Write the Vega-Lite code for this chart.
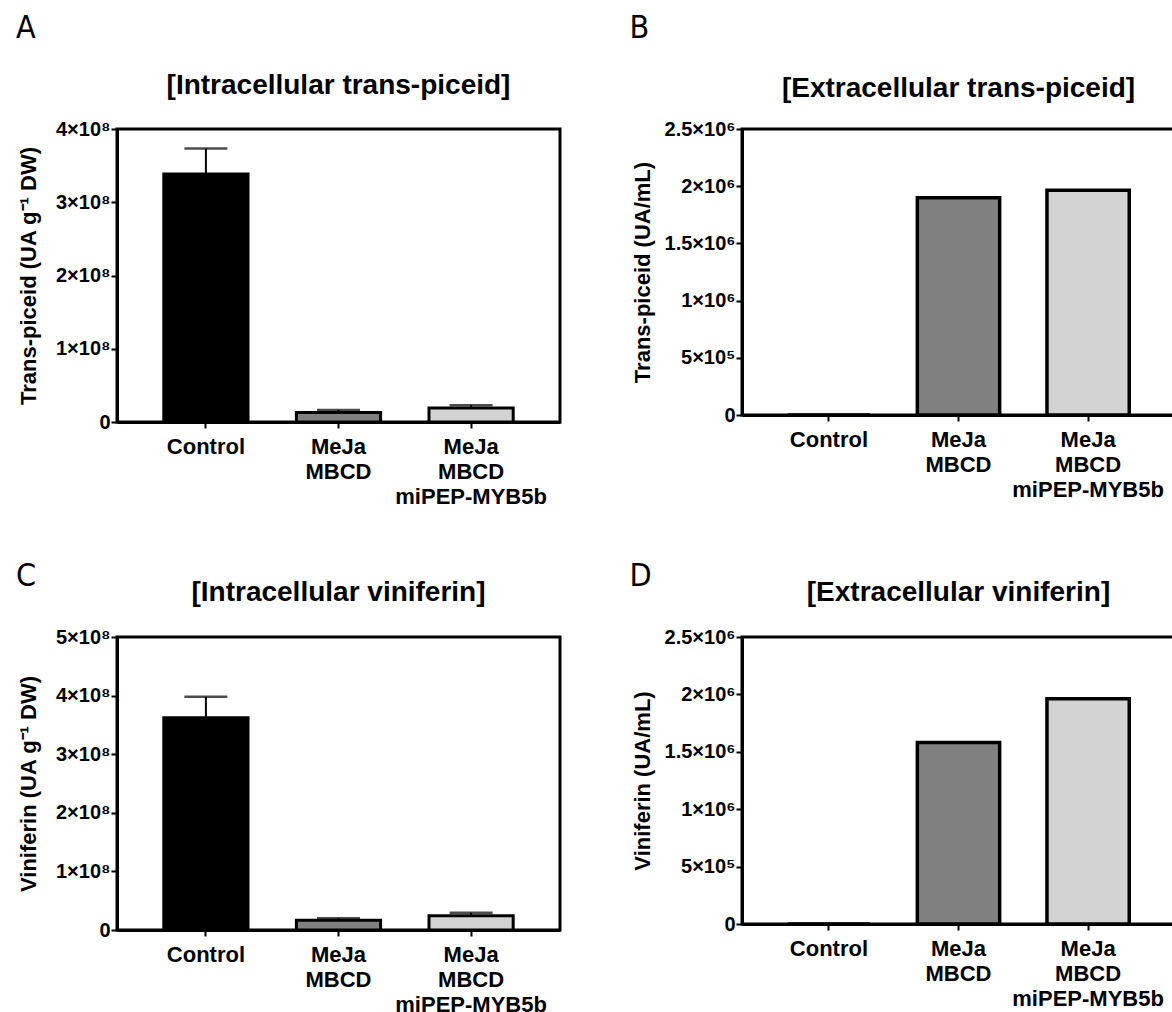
{
  "$schema": "https://vega.github.io/schema/vega-lite/v6.json",
  "padding": {"left": 15, "top": 12, "right": 0, "bottom": 0},
  "background": "white",
  "config": {
    "font": "Liberation Sans",
    "view": {"stroke": "black", "strokeWidth": 3},
    "axis": {"domainColor": "black", "domainWidth": 3, "tickColor": "black", "tickWidth": 2, "tickSize": 6, "labelFont": "Liberation Sans", "labelFontWeight": "bold", "labelColor": "black", "titleFont": "Liberation Sans", "titleFontWeight": "bold", "titleColor": "black", "grid": false},
    "axisX": {"labelAngle": 0, "labelFontSize": 22, "labelLineHeight": 25, "labelPadding": 8, "title": null, "labelExpr": "split(datum.label, '|')"},
    "axisY": {"labelFontSize": 20, "titleFontSize": 22, "labelPadding": 1},
    "title": {"font": "Liberation Sans", "fontWeight": "bold", "fontSize": 28, "color": "black"},
    "concat": {"spacing": 0}
  },
  "datasets": {
    "a": [
      {"treatment": "Control", "mean": 338600000, "upper": 373500000},
      {"treatment": "MeJa|MBCD", "mean": 13000000, "upper": 16500000},
      {"treatment": "MeJa|MBCD|miPEP-MYB5b", "mean": 19000000, "upper": 23000000}
    ],
    "b": [
      {"treatment": "Control", "mean": 0},
      {"treatment": "MeJa|MBCD", "mean": 1900000},
      {"treatment": "MeJa|MBCD|miPEP-MYB5b", "mean": 1965000}
    ],
    "c": [
      {"treatment": "Control", "mean": 362000000, "upper": 398000000},
      {"treatment": "MeJa|MBCD", "mean": 16500000, "upper": 20000000},
      {"treatment": "MeJa|MBCD|miPEP-MYB5b", "mean": 24500000, "upper": 29500000}
    ],
    "d": [
      {"treatment": "Control", "mean": 0},
      {"treatment": "MeJa|MBCD", "mean": 1580000},
      {"treatment": "MeJa|MBCD|miPEP-MYB5b", "mean": 1962000}
    ]
  },
  "vconcat": [
    {
      "hconcat": [
        {
          "title": {"text": "A", "anchor": "start", "frame": "bounds", "font": "DejaVu Sans Condensed", "fontWeight": "normal", "fontSize": 32, "offset": 25},
          "vconcat": [
            {
              "title": {"text": "[Intracellular trans-piceid]", "offset": 19.5},
              "width": 443, "height": 293,
              "data": {"name": "a"},
              "encoding": {
                "x": {"field": "treatment", "type": "nominal", "sort": null, "scale": {"paddingInner": 0.365, "paddingOuter": 0.353}}
              },
              "layer": [
                {"mark": {"type": "bar", "stroke": "black", "strokeWidth": 3},
                 "encoding": {
                   "y": {"field": "mean", "type": "quantitative", "scale": {"domain": [0, 400000000], "nice": false}, "title": "Trans-piceid (UA g⁻¹ DW)", "axis": {"values": [0, 100000000, 200000000, 300000000, 400000000], "labelExpr": "datum.value == 0 ? '0' : (datum.value/100000000) + '×10⁸'", "titlePadding": 15}},
                   "fill": {"field": "treatment", "type": "nominal", "sort": null, "scale": {"domain": ["Control", "MeJa|MBCD", "MeJa|MBCD|miPEP-MYB5b"], "range": ["#000000", "#808080", "#d3d3d3"]}, "legend": null}
                 }},
                {"mark": {"type": "rule", "color": "black", "strokeWidth": 2},
                 "encoding": {"y": {"field": "mean", "type": "quantitative"}, "y2": {"field": "upper"}}},
                {"mark": {"type": "tick", "color": "black", "thickness": 2.5, "size": 43},
                 "encoding": {"y": {"field": "upper", "type": "quantitative"}}}
              ]
            }
          ]
        },
        {
          "title": {"text": "B", "anchor": "start", "frame": "bounds", "font": "DejaVu Sans Condensed", "fontWeight": "normal", "fontSize": 32, "offset": 28.5},
          "vconcat": [
            {
              "title": {"text": "[Extracellular trans-piceid]", "offset": 16},
              "width": 433, "height": 286,
              "data": {"name": "b"},
              "encoding": {
                "x": {"field": "treatment", "type": "nominal", "sort": null, "scale": {"paddingInner": 0.365, "paddingOuter": 0.353}}
              },
              "layer": [
                {"mark": {"type": "bar", "stroke": "black", "strokeWidth": 3.5},
                 "encoding": {
                   "y": {"field": "mean", "type": "quantitative", "scale": {"domain": [0, 2500000], "nice": false}, "title": "Trans-piceid (UA/mL)", "axis": {"values": [0, 500000, 1000000, 1500000, 2000000, 2500000], "labelExpr": "datum.value == 0 ? '0' : datum.value == 500000 ? '5×10⁵' : (datum.value/1000000) + '×10⁶'", "titlePadding": 10}},
                   "fill": {"field": "treatment", "type": "nominal", "sort": null, "scale": {"domain": ["Control", "MeJa|MBCD", "MeJa|MBCD|miPEP-MYB5b"], "range": ["#000000", "#808080", "#d3d3d3"]}, "legend": null}
                 }}
              ]
            }
          ]
        }
      ],
      "spacing": 67
    },
    {
      "hconcat": [
        {
          "title": {"text": "C", "anchor": "start", "frame": "bounds", "font": "DejaVu Sans Condensed", "fontWeight": "normal", "fontSize": 32, "offset": -15},
          "vconcat": [
            {
              "title": {"text": "[Intracellular viniferin]", "offset": 20},
              "width": 443, "height": 293,
              "data": {"name": "c"},
              "encoding": {
                "x": {"field": "treatment", "type": "nominal", "sort": null, "scale": {"paddingInner": 0.365, "paddingOuter": 0.353}}
              },
              "layer": [
                {"mark": {"type": "bar", "stroke": "black", "strokeWidth": 3},
                 "encoding": {
                   "y": {"field": "mean", "type": "quantitative", "scale": {"domain": [0, 500000000], "nice": false}, "title": "Viniferin (UA g⁻¹ DW)", "axis": {"values": [0, 100000000, 200000000, 300000000, 400000000, 500000000], "labelExpr": "datum.value == 0 ? '0' : (datum.value/100000000) + '×10⁸'", "titlePadding": 15}},
                   "fill": {"field": "treatment", "type": "nominal", "sort": null, "scale": {"domain": ["Control", "MeJa|MBCD", "MeJa|MBCD|miPEP-MYB5b"], "range": ["#000000", "#808080", "#d3d3d3"]}, "legend": null}
                 }},
                {"mark": {"type": "rule", "color": "black", "strokeWidth": 2},
                 "encoding": {"y": {"field": "mean", "type": "quantitative"}, "y2": {"field": "upper"}}},
                {"mark": {"type": "tick", "color": "black", "thickness": 2.5, "size": 43},
                 "encoding": {"y": {"field": "upper", "type": "quantitative"}}}
              ]
            }
          ]
        },
        {
          "title": {"text": "D", "anchor": "start", "frame": "bounds", "font": "DejaVu Sans Condensed", "fontWeight": "normal", "fontSize": 32, "offset": -15},
          "vconcat": [
            {
              "title": {"text": "[Extracellular viniferin]", "offset": 20},
              "width": 433, "height": 287,
              "data": {"name": "d"},
              "encoding": {
                "x": {"field": "treatment", "type": "nominal", "sort": null, "scale": {"paddingInner": 0.365, "paddingOuter": 0.353}}
              },
              "layer": [
                {"mark": {"type": "bar", "stroke": "black", "strokeWidth": 3.5},
                 "encoding": {
                   "y": {"field": "mean", "type": "quantitative", "scale": {"domain": [0, 2500000], "nice": false}, "title": "Viniferin (UA/mL)", "axis": {"values": [0, 500000, 1000000, 1500000, 2000000, 2500000], "labelExpr": "datum.value == 0 ? '0' : datum.value == 500000 ? '5×10⁵' : (datum.value/1000000) + '×10⁶'", "titlePadding": 10}},
                   "fill": {"field": "treatment", "type": "nominal", "sort": null, "scale": {"domain": ["Control", "MeJa|MBCD", "MeJa|MBCD|miPEP-MYB5b"], "range": ["#000000", "#808080", "#d3d3d3"]}, "legend": null}
                 }}
              ]
            }
          ]
        }
      ],
      "spacing": 67
    }
  ],
  "spacing": 50
}
